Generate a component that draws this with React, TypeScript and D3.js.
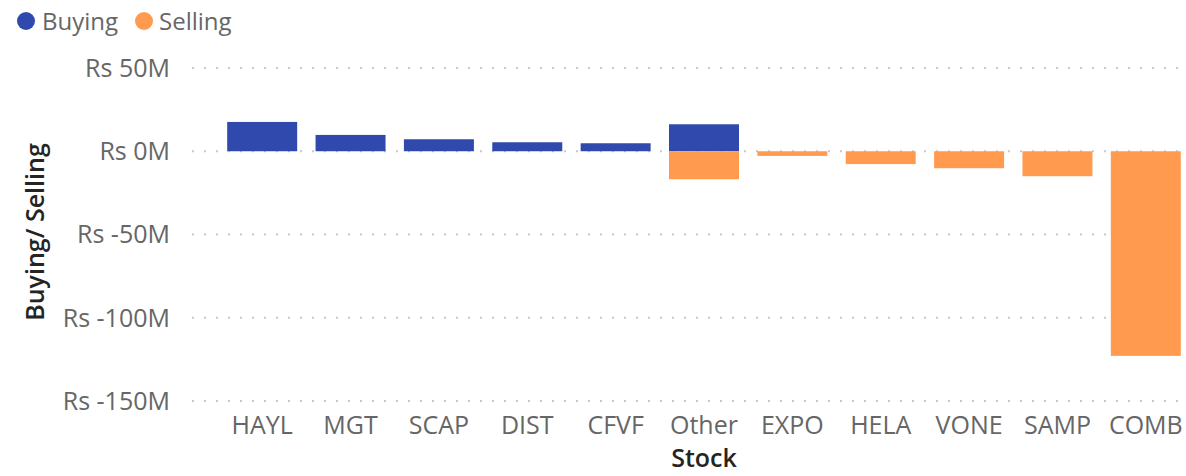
import React from 'react';
import * as d3 from 'd3';

const stocks = ['HAYL', 'MGT', 'SCAP', 'DIST', 'CFVF', 'Other', 'EXPO', 'HELA', 'VONE', 'SAMP', 'COMB'];
// values in Rs millions
const buying = [17.6, 9.8, 7.2, 5.4, 4.8, 16.2, 0, 0, 0, 0, 0];
const selling = [0, 0, 0, 0, 0, -16.8, -2.8, -7.7, -10.2, -15.0, -122.9];
const yTicks = [50, 0, -50, -100, -150];

const BLUE = '#3049AD';
const ORANGE = '#FF9A4F';
const FONT = "'Segoe UI', 'Open Sans', sans-serif";

const width = 1186;
const height = 476;

const App: React.FC = () => {
  const x = d3
    .scaleBand<string>()
    .domain(stocks)
    .range([218, 1190])
    .paddingInner(0.208)
    .paddingOuter(0.104);

  const y = d3.scaleLinear().domain([-150, 50]).range([401, 68]);

  const fmt = (v: number) => `Rs ${v}M`;

  return (
    <svg
      width={width}
      height={height}
      style={{ position: 'absolute', left: 0, top: 0, background: '#fff' }}
      fontFamily={FONT}
    >
      {/* legend */}
      <g>
        <circle cx={26} cy={21} r={9} fill={BLUE} />
        <text x={42} y={30} fontSize={24} fill="#666">Buying</text>
        <circle cx={144} cy={21} r={9} fill={ORANGE} />
        <text x={159} y={30} fontSize={24} fill="#666">Selling</text>
      </g>

      {/* grid + y ticks */}
      {yTicks.map((t) => (
        <g key={t}>
          <line
            x1={192}
            x2={1182}
            y1={y(t)}
            y2={y(t)}
            stroke="#C8C8C8"
            strokeWidth={2}
            strokeDasharray="2,10"
          />
          <text x={170} y={y(t)} dy="0.35em" textAnchor="end" fontSize={25} fill="#666">
            {fmt(t)}
          </text>
        </g>
      ))}

      {/* bars */}
      {stocks.map((s, i) => (
        <g key={s}>
          {buying[i] !== 0 && (
            <rect
              x={x(s)}
              y={y(buying[i])}
              width={x.bandwidth()}
              height={y(0) - y(buying[i])}
              fill={BLUE}
            />
          )}
          {selling[i] !== 0 && (
            <rect
              x={x(s)}
              y={y(0)}
              width={x.bandwidth()}
              height={y(selling[i]) - y(0)}
              fill={ORANGE}
            />
          )}
        </g>
      ))}

      {/* x labels */}
      {stocks.map((s) => (
        <text
          key={s}
          x={(x(s) || 0) + x.bandwidth() / 2}
          y={434}
          textAnchor="middle"
          fontSize={25}
          fill="#666"
        >
          {s}
        </text>
      ))}

      {/* axis titles */}
      <text x={704} y={467} textAnchor="middle" fontSize={25} fontWeight={600} fill="#252423">
        Stock
      </text>
      <text
        transform={`translate(44, 232) rotate(-90)`}
        textAnchor="middle"
        fontSize={25}
        fontWeight={600}
        fill="#252423"
      >
        Buying/ Selling
      </text>
    </svg>
  );
};

export default App;
